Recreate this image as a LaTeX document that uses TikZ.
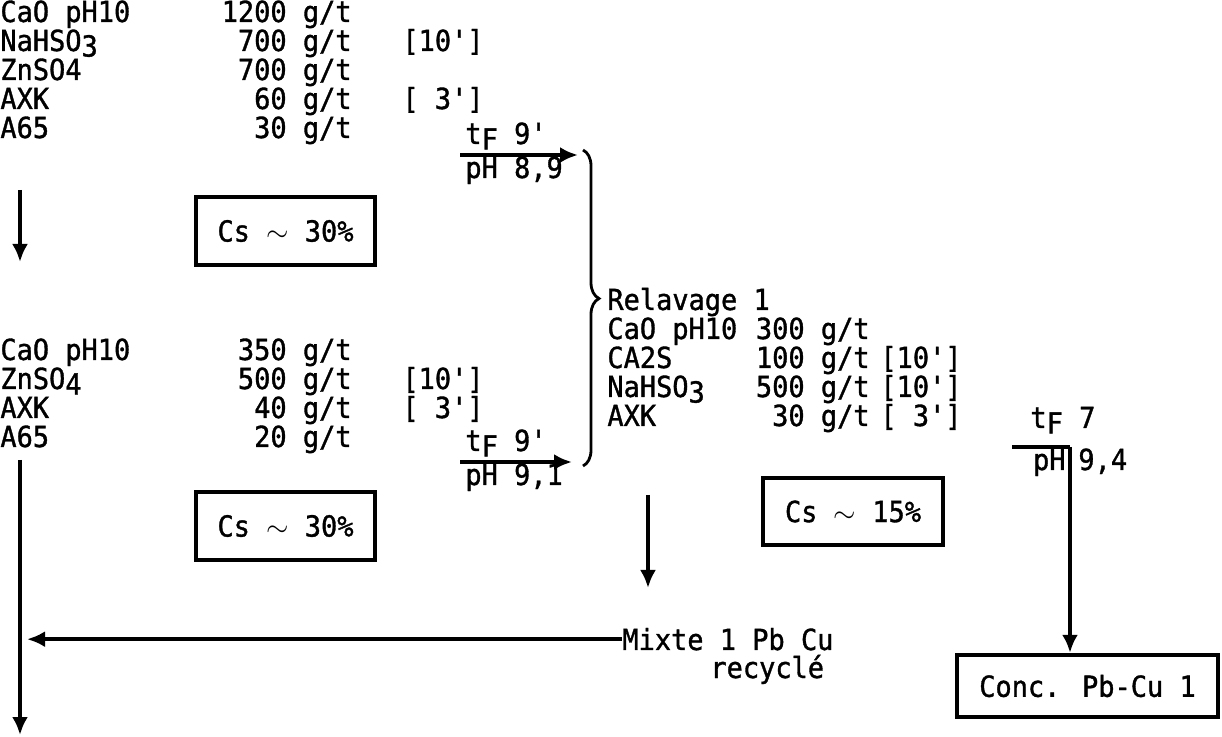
\documentclass[tikz,border=0pt]{standalone}
\usepackage{fontspec}
\newfontfamily\typew[FakeStretch=0.93,FakeBold=1.2]{DejaVu Sans Mono}
\usetikzlibrary{arrows.meta,decorations.pathreplacing}
\newcommand\dn[1]{\raisebox{-0.35ex}{#1}}
\tikzset{
  txt/.style={inner sep=0pt, font=\typew\fontsize{14.5}{14.5}\selectfont},
  cbox/.style={txt, draw, line width=2.2pt, minimum width=89.5pt, minimum height=34pt},
  flow/.style={-{Latex[length=9pt,width=8pt]}, line width=2pt},
}
\begin{document}
\begin{tikzpicture}[x=0.5pt, y=-0.5pt]
  \useasboundingbox (0,0) rectangle (1222,737);
  % first stage
  \foreach \lab/\amt [count=\i] in {CaO pH10/1200, NaHSO\dn{3}/700, ZnSO4/700, AXK/60, A65/30}{
    \node[txt, anchor=base west] (fa\i) at (0,{22+29*(\i-1)}) {\lab};
    \node[txt, anchor=base east] (fb\i) at (352,{22+29*(\i-1)}) {\amt\ g/t};
  }
  \node[txt, anchor=base west] (fc2) at (402,51) {[10']};
  \node[txt, anchor=base west] (fc4) at (402,109) {[ 3']};
  \node[cbox] (cs1) at (285.5,231) {Cs $\sim$ 30\%};
  % second stage
  \foreach \lab/\amt [count=\i] in {CaO pH10/350, ZnSO\dn{4}/500, AXK/40, A65/20}{
    \node[txt, anchor=base west] (sa\i) at (0,{360+29*(\i-1)}) {\lab};
    \node[txt, anchor=base east] (sb\i) at (352,{360+29*(\i-1)}) {\amt\ g/t};
  }
  \node[txt, anchor=base west] (sc2) at (402,389) {[10']};
  \node[txt, anchor=base west] (sc3) at (402,418) {[ 3']};
  \node[cbox] (cs2) at (285.5,526) {Cs $\sim$ 30\%};
  % relavage
  \node[txt, anchor=base west] (rv) at (607,310) {Relavage 1};
  \foreach \lab/\amt [count=\i] in {CaO pH10/300, CA2S/100, NaHSO\dn{3}/500, AXK/30}{
    \node[txt, anchor=base west] (ra\i) at (607,{339+29*(\i-1)}) {\lab};
    \node[txt, anchor=base east] (rb\i) at (870,{339+29*(\i-1)}) {\amt\ g/t};
  }
  \node[txt, anchor=base west] (rc2) at (880,368) {[10']};
  \node[txt, anchor=base west] (rc3) at (880,397) {[10']};
  \node[txt, anchor=base west] (rc4) at (880,426) {[ 3']};
  \node[cbox, minimum width=90pt, minimum height=33.5pt] (cs3) at (853,511.5) {Cs $\sim$ 15\%};
  \node[txt, anchor=base west] (mix1) at (622,650) {Mixte 1 Pb Cu};
  \node[txt, anchor=base west] (mix2) at (710,678) {recyclé};
  \node[cbox, minimum width=130.5pt, minimum height=31pt] (conc) at (1087.5,686) {Conc. Pb-Cu 1};
  % flotation times
  \node[txt, anchor=base west] (tf1) at (465,144) {t\dn{F} 9'};
  \node[txt, anchor=base west] (ph1) at (465,178) {pH 8,9};
  \node[txt, anchor=base west] (tf2) at (465,451) {t\dn{F} 9'};
  \node[txt, anchor=base west] (ph2) at (465,485) {pH 9,1};
  \node[txt, anchor=base west] (tf3) at (1030,428) {t\dn{F} 7};
  \node[txt, anchor=base east] (ph3) at (1066,470) {pH};
  \node[txt, anchor=base west] (ph3v) at (1078,470) {9,4};
  % connectors
  \coordinate (a1s) at (460,155); \coordinate (a1e) at (578,155);
  \coordinate (a2s) at (460,462); \coordinate (a2e) at (572,462);
  \coordinate (l1s) at (20,190); \coordinate (l1e) at (20,262);
  \coordinate (l2s) at (20,460); \coordinate (l2e) at (20,735);
  \coordinate (rec) at (27,640);
  \coordinate (rl) at (648,495); \coordinate (rle) at (648,588);
  \coordinate (jl) at (1012,447); \coordinate (jn) at (1070,447);
  \draw[flow] (a1s) -- (a1e);
  \draw[flow] (a2s) -- (a2e);
  \draw[flow] (l1s) -- (l1e);
  \draw[flow] (l2s) -- (l2e);
  \draw[flow] (mix1.west) -- (mix1.west -| rec);
  \draw[flow] (rl) -- (rle);
  \draw[line width=2pt] (jl) -- (jn);
  \draw[flow] (jn) -- (jn |- conc.north);
  \draw[line width=1.4pt, decorate, decoration={brace, amplitude=8pt, aspect=0.47}] (583,150) -- (583,466);
\end{tikzpicture}
\end{document}
